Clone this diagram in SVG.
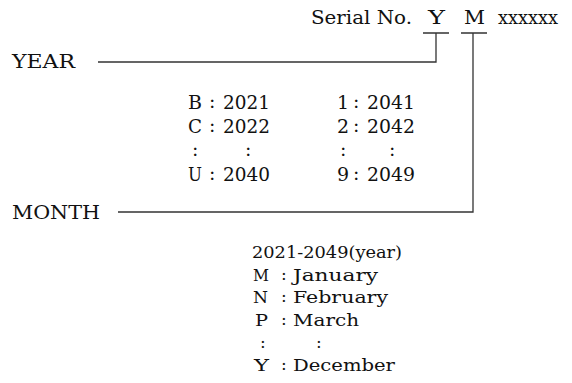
<svg xmlns="http://www.w3.org/2000/svg" width="572" height="383" viewBox="0 0 572 383">
<style>
text{font-family:"DejaVu Serif","Liberation Serif",serif;font-size:19px;fill:#111}
.s{font-size:17px}
.ln{stroke:#333;stroke-width:1.3;fill:none}
</style>
<rect width="572" height="383" fill="#fff"/>
<g id="serial">
<text x="311" y="24" textLength="101" lengthAdjust="spacingAndGlyphs">Serial No.</text>
<text x="428" y="24" textLength="17" lengthAdjust="spacingAndGlyphs">Y</text>
<text x="464" y="24" textLength="21" lengthAdjust="spacingAndGlyphs">M</text>
<text x="498" y="24" textLength="60" lengthAdjust="spacingAndGlyphs">xxxxxx</text>
</g>
<g id="year">
<text x="12" y="68" textLength="63" lengthAdjust="spacingAndGlyphs">YEAR</text>
<text x="188" y="109" textLength="14" lengthAdjust="spacingAndGlyphs">B</text><text x="209" y="108">:</text><text x="223" y="109" textLength="47" lengthAdjust="spacingAndGlyphs">2021</text>
<text x="188" y="133" textLength="14" lengthAdjust="spacingAndGlyphs">C</text><text x="209" y="132">:</text><text x="223" y="133" textLength="47" lengthAdjust="spacingAndGlyphs">2022</text>
<text x="192" y="156">:</text><text x="245" y="156">:</text>
<text x="188" y="181" textLength="14" lengthAdjust="spacingAndGlyphs">U</text><text x="209" y="180">:</text><text x="223" y="181" textLength="47" lengthAdjust="spacingAndGlyphs">2040</text>
<text x="337" y="109">1</text><text x="353" y="108">:</text><text x="367" y="109" textLength="48" lengthAdjust="spacingAndGlyphs">2041</text>
<text x="337" y="133">2</text><text x="353" y="132">:</text><text x="367" y="133" textLength="48" lengthAdjust="spacingAndGlyphs">2042</text>
<text x="340" y="156">:</text><text x="389" y="156">:</text>
<text x="337" y="181">9</text><text x="353" y="180">:</text><text x="367" y="181" textLength="48" lengthAdjust="spacingAndGlyphs">2049</text>
</g>
<g id="month">
<text x="12" y="219" textLength="88" lengthAdjust="spacingAndGlyphs">MONTH</text>
<text class="s" x="252" y="258" textLength="150" lengthAdjust="spacingAndGlyphs">2021-2049(year)</text>
<text class="s" x="253" y="281" textLength="16" lengthAdjust="spacingAndGlyphs">M</text><text class="s" x="281" y="280">:</text><text class="s" x="293" y="281" textLength="85" lengthAdjust="spacingAndGlyphs">January</text>
<text class="s" x="253" y="303" textLength="15" lengthAdjust="spacingAndGlyphs">N</text><text class="s" x="281" y="302">:</text><text class="s" x="293" y="303" textLength="95" lengthAdjust="spacingAndGlyphs">February</text>
<text class="s" x="255" y="326" textLength="13" lengthAdjust="spacingAndGlyphs">P</text><text class="s" x="281" y="325">:</text><text class="s" x="293" y="326" textLength="66" lengthAdjust="spacingAndGlyphs">March</text>
<text class="s" x="260" y="348">:</text><text class="s" x="316" y="348">:</text>
<text class="s" x="254" y="371" textLength="15" lengthAdjust="spacingAndGlyphs">Y</text><text class="s" x="281" y="370">:</text><text class="s" x="293" y="371" textLength="102" lengthAdjust="spacingAndGlyphs">December</text>
</g>
<g id="connectors">
<path class="ln" d="M423 33H449M436 33V62H98"/>
<path class="ln" d="M461 33H487M473 33V212H118"/>
</g>
</svg>
